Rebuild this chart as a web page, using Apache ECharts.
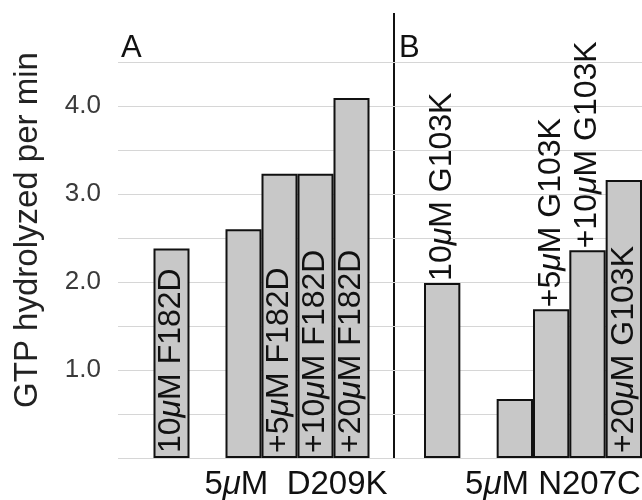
<!DOCTYPE html>
<html>
<head>
<meta charset="utf-8">
<script src="https://cdn.jsdelivr.net/npm/echarts@6/dist/echarts.min.js"></script>
<style>
  html, body { margin: 0; padding: 0; background: #fff; }
  #chart { width: 642px; height: 500px; }
</style>
</head>
<body>
<div id="chart"></div>
<script>
// panel A: D209K titrated with F182D
const catsA = ['10μM F182D', 'gap', '5μM D209K', '+5μM F182D', '+10μM F182D', '+20μM F182D']
const valuesA = [2.38, null, 2.6, 3.23, 3.23, 4.09]
const labelsA = ['10μM F182D', '', '', '+5μM F182D', '+10μM F182D', '+20μM F182D']

// panel B: N207C titrated with G103K
const catsB = ['10μM G103K', 'gap', '5μM N207C', '+5μM G103K', '+10μM G103K', '+20μM G103K']
const valuesB = [1.99, null, 0.67, 1.69, 2.36, 3.16]
const labelsB = ['10μM G103K', '', '', '+5μM G103K', '+10μM G103K', '+20μM G103K']

const yTicks = [1.0, 2.0, 3.0, 4.0]
const groupA = '5μM  D209K'
const groupB = '5μM N207C'
const yName = 'GTP hydrolyzed per min'

const FONT = '"Liberation Sans", Arial, Helvetica, sans-serif'
const BAR_FILL = '#c8c8c8'

// italic mu via rich text
const mu = (s) => s.replace(/μ/g, '{mu|μ}')
const richMu = (size) => ({ mu: { fontStyle: 'italic', fontSize: size, fontFamily: FONT, color: '#111' } })

const barLabel = (text, pos) => ({
  show: !!text,
  formatter: mu(text),
  position: pos,
  rotate: 90,
  align: 'left',
  verticalAlign: 'middle',
  distance: pos === 'top' ? 2 : 5,
  fontSize: 32,
  fontFamily: FONT,
  color: '#111',
  rich: richMu(32)
})

const dataA = valuesA.map((v, i) => ({ value: v, label: barLabel(labelsA[i], 'insideBottom') }))
const dataB = valuesB.map((v, i) => ({
  value: v,
  label: barLabel(labelsB[i], i === valuesB.length - 1 ? 'insideBottom' : 'top')
}))

const hiddenY = (idx) => ({ type: 'value', gridIndex: idx, min: 0, max: 4.5, interval: 0.5, show: false })
const hiddenX = (idx, data) => ({ type: 'category', gridIndex: idx, data: data, show: false })

const barSeries = (idx, data) => ({
  type: 'bar',
  xAxisIndex: idx,
  yAxisIndex: idx,
  data: data,
  barCategoryGap: '0%',
  itemStyle: { color: BAR_FILL, borderColor: '#111', borderWidth: 2 },
  silent: true
})

const chart = echarts.init(document.getElementById('chart'))
chart.setOption({
  animation: false,
  grid: [
    { left: 118, right: 0, top: 62, bottom: 42 },
    { left: 153.5, width: 216, top: 62, bottom: 42 },
    { left: 424, width: 222, top: 62, bottom: 42 }
  ],
  xAxis: [
    { type: 'value', gridIndex: 0, show: false },
    hiddenX(1, catsA),
    hiddenX(2, catsB)
  ],
  yAxis: [
    {
      type: 'value',
      gridIndex: 0,
      min: 0,
      max: 4.5,
      interval: 0.5,
      axisLine: { show: false },
      axisTick: { show: false },
      splitLine: { lineStyle: { color: '#d6d6d6', width: 1 } },
      axisLabel: {
        margin: 17,
        fontSize: 26,
        fontFamily: FONT,
        color: '#3a3a3a',
        formatter: (v) => yTicks.includes(v) ? v.toFixed(1) : ''
      }
    },
    hiddenY(1),
    hiddenY(2)
  ],
  series: [
    barSeries(1, dataA),
    barSeries(2, dataB)
  ],
  graphic: [
    // divider between panels
    { type: 'line', shape: { x1: 394, y1: 13, x2: 394, y2: 458 }, style: { stroke: '#111', lineWidth: 2 } },
    { type: 'text', x: 121, y: 64, style: { text: 'A', fontSize: 31, fontFamily: FONT, fill: '#111', align: 'left', verticalAlign: 'bottom' } },
    { type: 'text', x: 399, y: 64, style: { text: 'B', fontSize: 31, fontFamily: FONT, fill: '#111', align: 'left', verticalAlign: 'bottom' } },
    {
      type: 'text', x: 296, y: 485,
      style: { text: mu(groupA), rich: richMu(33), fontSize: 33, fontFamily: FONT, fill: '#111', align: 'center', verticalAlign: 'middle' }
    },
    {
      type: 'text', x: 553, y: 485,
      style: { text: mu(groupB), rich: richMu(33), fontSize: 33, fontFamily: FONT, fill: '#111', align: 'center', verticalAlign: 'middle' }
    },
    {
      type: 'text', x: 28, y: 230, rotation: Math.PI / 2,
      style: { text: yName, fontSize: 33, fontFamily: FONT, fill: '#222', align: 'center', verticalAlign: 'middle' }
    }
  ]
})
</script>
</body>
</html>
